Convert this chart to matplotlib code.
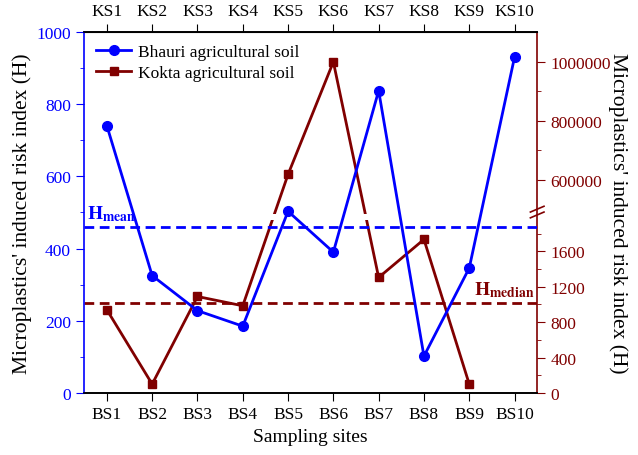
import matplotlib
matplotlib.use("Agg")
import matplotlib.pyplot as plt
import numpy as np

plt.rcParams['font.family'] = ['Liberation Serif', 'DejaVu Serif']
plt.rcParams['mathtext.fontset'] = 'stix'

# risk index per sampling site
sites = np.arange(1, 11)
bs_labels = ['BS1', 'BS2', 'BS3', 'BS4', 'BS5', 'BS6', 'BS7', 'BS8', 'BS9', 'BS10']
ks_labels = ['KS1', 'KS2', 'KS3', 'KS4', 'KS5', 'KS6', 'KS7', 'KS8', 'KS9', 'KS10']
bhauri = [740, 325, 228, 185, 503, 390, 837, 102, 346, 930]
kokta = [940, 100, 1090, 985, 618000, 1000000, 1305, 1735, 100]
h_mean = 460
h_median = 1020

blue = '#0000FF'
red = '#800000'

# broken right axis: 0-2040 on the lower half, 489000-1102000 on the upper half
lo_top, hi_bot, hi_top = 2040, 489000, 1102000
brk_x = [0, lo_top, hi_bot, hi_top]
brk_y = [0, 0.5, 0.5 + 1e-9, 1.0]


def fwd(v):
    return np.interp(v, brk_x, brk_y)


def inv(y):
    return np.interp(y, brk_y, brk_x)


fig = plt.figure(figsize=(6.38, 4.56), dpi=100)
ax1 = fig.add_axes([0.132, 0.136, 0.710, 0.792])
ax2 = ax1.twinx()
ax1.set_zorder(ax2.get_zorder() + 1)
ax1.patch.set_visible(False)

l1, = ax1.plot(sites, bhauri, '-o', color=blue, lw=2, ms=7,
               label='Bhauri agricultural soil')
ax1.axhline(h_mean, color=blue, ls='--', lw=2, dashes=(3.5, 2))
ax1.text(0.56, h_mean + 12, r'$\mathbf{H}_{\mathbf{mean}}$', color=blue,
         fontsize=14, va='bottom', ha='left')

ax2.set_yscale('function', functions=(fwd, inv))
l2, = ax2.plot(sites[:len(kokta)], kokta, '-s', color=red, lw=2, ms=6,
               label='Kokta agricultural soil', zorder=2)
ax2.axhline(h_median, color=red, ls='--', lw=2, dashes=(3.5, 2))
ax2.text(10.44, h_median + 40, r'$\mathbf{H}_{\mathbf{median}}$', color=red,
         fontsize=14, va='bottom', ha='right')
# white gap in the line where it crosses the break
ax2.axhspan(inv(0.479), inv(0.496), color='white', zorder=2.2, lw=0)

ax1.set_xlim(0.5, 10.5)
ax1.set_ylim(0, 1000)
ax2.set_ylim(0, hi_top)

ax1.set_xticks(sites, bs_labels)
ax1.set_yticks(np.arange(0, 1001, 200))
ax1.set_yticks(np.arange(100, 1000, 200), minor=True)
ax2.set_yticks([0, 400, 800, 1200, 1600, 600000, 800000, 1000000])
ax2.set_yticks([200, 600, 1000, 1400, 1800, 700000, 900000], minor=True)
ax2.set_yticklabels(['0', '400', '800', '1200', '1600', '600000', '800000', '1000000'])

top = ax1.secondary_xaxis('top')
top.set_xticks(sites, ks_labels)
top.tick_params(direction='out', length=6, labelsize=12.5)

ax1.tick_params(axis='x', direction='out', length=6, labelsize=12.5, colors='black')
ax1.tick_params(axis='y', which='both', direction='out', colors=blue, labelsize=12.5)
ax1.tick_params(axis='y', which='major', length=6)
ax1.tick_params(axis='y', which='minor', length=3)
ax2.tick_params(axis='y', which='both', direction='out', colors=red, labelsize=12.5)
ax2.tick_params(axis='y', which='major', length=6)
ax2.tick_params(axis='y', which='minor', length=3)

ax1.spines['left'].set_color(blue)
ax1.spines['right'].set_visible(False)
ax2.spines['left'].set_visible(False)
ax2.spines['right'].set_color(red)
for ax in (ax1, ax2):
    for s in ax.spines.values():
        s.set_linewidth(1.2)

# break marks on the right spine
for yc in (0.493, 0.509):
    ax2.plot([0.985, 1.015], [yc - 0.008, yc + 0.008], color=red, lw=1.2,
             transform=ax2.transAxes, clip_on=False, zorder=5)

ax1.set_xlabel('Sampling sites', fontsize=14)
ax1.set_ylabel("Microplastics' induced risk index (H)", fontsize=15.5, labelpad=3)
ax2.set_ylabel("Microplastics' induced risk index (H)", fontsize=15.5,
               rotation=270, labelpad=12)

ax1.legend(handles=[l1, l2], loc='upper left', frameon=False, fontsize=12.5,
           handlelength=2.0, handletextpad=0.4, borderaxespad=0.3,
           labelspacing=0.25)

fig.savefig('out.png', dpi=100)
